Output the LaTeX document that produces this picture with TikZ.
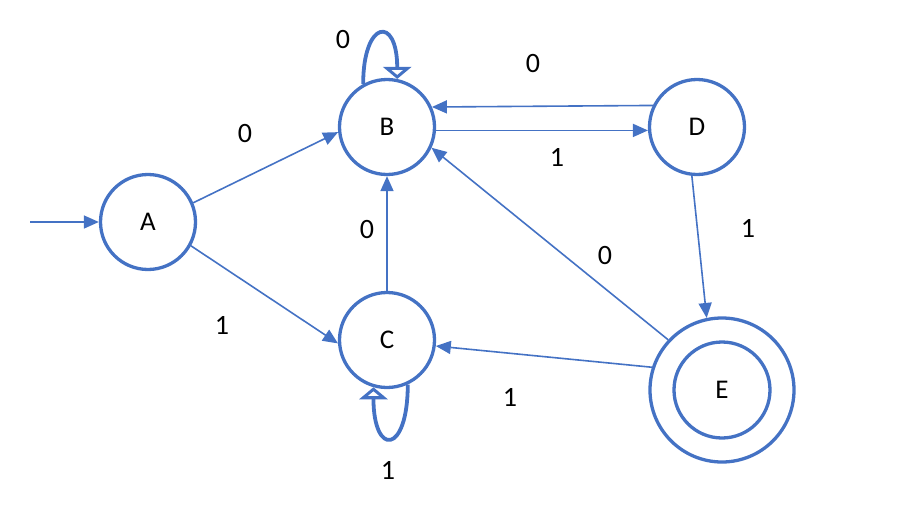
\documentclass[tikz,border=0pt]{standalone}
\usepackage{fontspec}
\setmainfont{Carlito}
\usetikzlibrary{arrows.meta}
\definecolor{officeblue}{HTML}{4472C4}
\tikzset{%
  state/.style={
    circle,
    draw=officeblue,
    line width=3.3pt,
    fill=white,
    inner sep=0pt,
    minimum size=95pt,
    font=\fontsize{27}{30}\selectfont
  },
  trans/.style={
    draw=officeblue,
    line width=1.6pt,
    -{Triangle[length=15pt, width=13pt]}
  },
  selfloop/.style={
    draw=officeblue,
    line width=3.8pt,
    -{Triangle[open, length=12pt, width=28pt]}
  },
  lbl/.style={
    font=\fontsize{28}{30}\selectfont
  }
}

\begin{document}
\begin{tikzpicture}[x=1pt, y=-1pt]
		\useasboundingbox (0,0) rectangle (916,530);
		% states
		\node[state] (A) at (148,222) {A};
		\node[state] (B) at (387,127) {B};
		\node[state] (C) at (387,340) {C};
		\node[state] (D) at (697,127) {D};
		\node[state, minimum size=144pt] (E) at (722,390) {};
		\node[state, minimum size=96pt] (Ein) at (E) {E};
		% start arrow
		\coordinate (start) at (30,222);
		\draw[trans] (start) -- (A.west);
		% transitions
		\draw[trans] (A.23) -- (B.186);
		\draw[trans] (A.-29) -- (C.184);
		\draw[trans] (C.north) -- (B.south);
		\draw[trans] (D.154) -- (B.24);
		\draw[trans] (B.-4) -- (D.184);
		\draw[trans] (D.-96) -- (E.102);
		\draw[trans] (E.137) -- (B.-25);
		\draw[trans] (E.162) -- (C.-7);
		% self loops
		\draw[selfloop] (B.119) .. controls +(0,-64) and +(0,-64) .. (B.78);
		\draw[selfloop] (C.-65) .. controls +(0,70) and +(0,70) .. (C.-106);
		% labels
		\node[lbl] (lBB) at (343,40) {0};
		\node[lbl] (lCC) at (388,470) {1};
		\node[lbl] (lAB) at (245,134) {0};
		\node[lbl] (lAC) at (222,325) {1};
		\node[lbl] (lCB) at (367,230) {0};
		\node[lbl] (lDB) at (533,64) {0};
		\node[lbl] (lBD) at (557,157) {1};
		\node[lbl] (lDE) at (748,228) {1};
		\node[lbl] (lEB) at (605,256) {0};
		\node[lbl] (lEC) at (510,397) {1};
	\end{tikzpicture}
\end{document}
